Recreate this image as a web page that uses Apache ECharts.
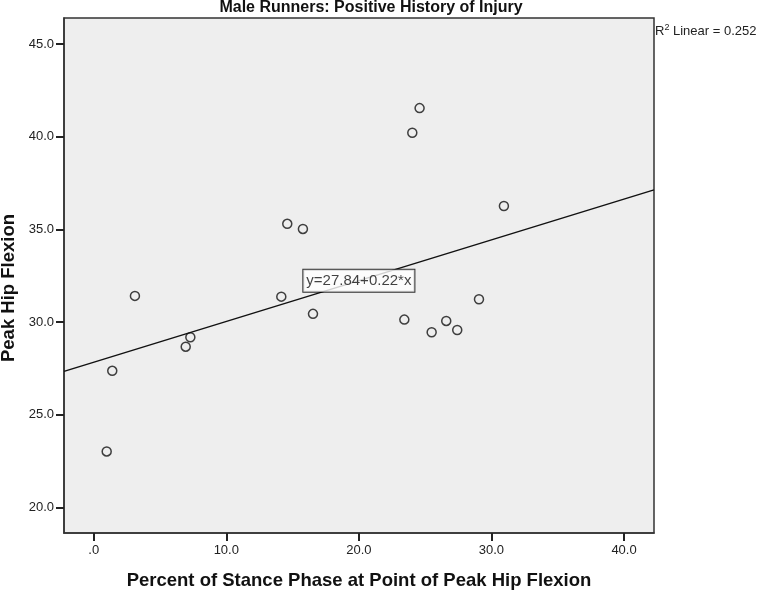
<!DOCTYPE html>
<html>
<head>
<meta charset="utf-8">
<script src="https://cdn.jsdelivr.net/npm/echarts@6/dist/echarts.min.js"></script>
<style>
  html, body { margin: 0; padding: 0; background: #fff; }
  #chart { width: 760px; height: 590px; }
</style>
</head>
<body>
<div id="chart"></div>
<script>
// values
const percentStance = [0.98, 1.40, 3.11, 6.94, 7.29, 14.15, 14.60, 15.78, 16.54, 23.43, 24.03, 24.58, 25.49, 26.59, 27.42, 29.06, 30.94];
const peakHipFlexion = [23.03, 27.38, 31.42, 28.68, 29.19, 31.38, 35.31, 35.03, 30.45, 30.14, 40.22, 41.55, 29.46, 30.07, 29.58, 31.24, 36.27];
const xTicks = [0, 10, 20, 30, 40];
const yTicks = [20, 25, 30, 35, 40, 45];

// fitted line from the reference
const intercept = 27.84;
const slope = 0.22;
const rSquared = 0.252;

const xMin = -2.24, xMax = 42.26;
const yMin = 18.63, yMax = 46.41;

const fit = x => intercept + slope * x;
const points = percentStance.map((x, i) => [x, peakHipFlexion[i]]);
const fitLine = [[xMin, fit(xMin)], [xMax, fit(xMax)]];
const labelX = 20;

const FONT = '"Liberation Sans", Arial, sans-serif';

const chart = echarts.init(document.getElementById('chart'));

chart.setOption({
  animation: false,
  grid: {
    left: 64, top: 18, right: 106, bottom: 57,
    outerBoundsMode: 'none',
    containLabel: false,
    show: true,
    backgroundColor: '#eeeeee',
    borderColor: '#333',
    borderWidth: 1.5
  },
  xAxis: {
    type: 'value',
    min: xMin, max: xMax,
    name: 'Percent of Stance Phase at Point of Peak Hip Flexion',
    nameLocation: 'middle',
    nameGap: 38,
    nameTextStyle: { fontFamily: FONT, fontWeight: 'bold', fontSize: 18.5, color: '#111' },
    splitLine: { show: false },
    axisLine: { onZero: false, lineStyle: { color: '#333', width: 1.5 } },
    axisTick: { show: true, customValues: xTicks, length: 8, lineStyle: { color: '#222', width: 2 } },
    axisLabel: {
      customValues: xTicks,
      margin: 11,
      fontFamily: FONT, fontSize: 13, color: '#222',
      formatter: v => v === 0 ? '.0' : v.toFixed(1)
    }
  },
  yAxis: {
    type: 'value',
    min: yMin, max: yMax,
    splitLine: { show: false },
    axisLine: { show: true, onZero: false, lineStyle: { color: '#333', width: 1.5 } },
    axisTick: { show: true, customValues: yTicks, length: 8, lineStyle: { color: '#222', width: 2 } },
    axisLabel: {
      customValues: yTicks,
      margin: 10,
      fontFamily: FONT, fontSize: 13, color: '#222',
      formatter: v => v.toFixed(1)
    }
  },
  graphic: [
    {
      type: 'text', x: 371, y: 8,
      style: {
        text: 'Male Runners: Positive History of Injury',
        font: 'bold 16px ' + FONT, fill: '#111',
        align: 'center', verticalAlign: 'middle'
      }
    },
    {
      type: 'text', x: 9, y: 288, rotation: Math.PI / 2,
      style: {
        text: 'Peak Hip Flexion',
        font: 'bold 18.5px ' + FONT, fill: '#111',
        align: 'center', verticalAlign: 'middle'
      }
    },
    {
      type: 'text', x: 655, y: 31,
      style: {
        text: '{r|R}{s|2}{r| Linear = ' + rSquared.toFixed(3) + '}',
        align: 'left', verticalAlign: 'middle',
        rich: {
          r: { fontFamily: FONT, fontSize: 13, fill: '#222', lineHeight: 15 },
          s: { fontFamily: FONT, fontSize: 9, fill: '#222', verticalAlign: 'top', lineHeight: 15 }
        }
      }
    }
  ],
  series: [
    {
      type: 'line',
      data: fitLine,
      showSymbol: false,
      symbol: 'none',
      clip: true,
      silent: true,
      lineStyle: { color: '#111', width: 1.5 },
      z: 2
    },
    {
      type: 'scatter',
      data: points,
      symbol: 'circle',
      symbolSize: 9,
      silent: true,
      itemStyle: { color: 'rgba(0,0,0,0)', borderColor: '#111', borderWidth: 1.5 },
      z: 3
    },
    {
      type: 'scatter',
      data: [[labelX, fit(labelX)]],
      symbolSize: 2,
      silent: true,
      itemStyle: { color: 'rgba(0,0,0,0)' },
      label: {
        show: true,
        position: 'inside',
        formatter: 'y=' + intercept.toFixed(2) + '+' + slope.toFixed(2) + '*x',
        fontFamily: FONT, fontSize: 15, color: '#111',
        backgroundColor: '#fff',
        borderColor: '#000', borderWidth: 1,
        padding: [4, 3, 3, 3]
      },
      z: 5
    }
  ]
});
</script>
</body>
</html>
